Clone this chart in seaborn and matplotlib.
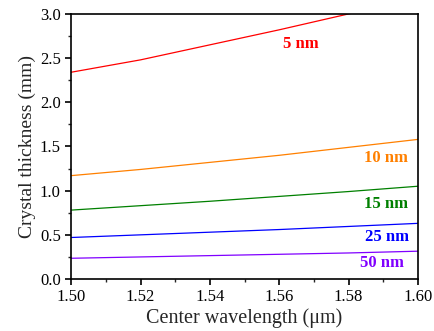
"""Crystal thickness vs center wavelength for several bandwidths."""

import matplotlib
matplotlib.use("Agg")
import matplotlib.pyplot as plt
import numpy as np
import pandas as pd
import seaborn as sns
from matplotlib.ticker import AutoMinorLocator

# Values
wavelength = [1.50, 1.52, 1.54, 1.56, 1.58, 1.60]
thick_5nm = [2.34, 2.48, 2.65, 2.82, 3.00, 3.17]
thick_10nm = [1.17, 1.24, 1.32, 1.40, 1.49, 1.58]
thick_15nm = [0.78, 0.83, 0.88, 0.935, 0.99, 1.05]
thick_25nm = [0.47, 0.50, 0.53, 0.56, 0.595, 0.63]
thick_50nm = [0.235, 0.25, 0.265, 0.28, 0.295, 0.315]

bandwidths = ["5 nm", "10 nm", "15 nm", "25 nm", "50 nm"]
colors = ["#ff0000", "#ff8000", "#008000", "#0000ff", "#8000ff"]
label_x = [1.5663, 1.5908, 1.5908, 1.5912, 1.5895]
label_y = [2.66, 1.37, 0.85, 0.475, 0.18]


def main():
    sns.set_theme(style="ticks")
    plt.rcParams["font.family"] = ["Liberation Serif", "DejaVu Serif"]
    plt.rcParams["mathtext.fontset"] = "stix"

    series = [thick_5nm, thick_10nm, thick_15nm, thick_25nm, thick_50nm]
    df = pd.concat(
        [pd.DataFrame({"wavelength": wavelength, "thickness": s, "bw": bw})
         for s, bw in zip(series, bandwidths)],
        ignore_index=True,
    )

    fig, ax = plt.subplots(figsize=(4.34, 3.31), dpi=100)
    sns.lineplot(data=df, x="wavelength", y="thickness", hue="bw",
                 hue_order=bandwidths, palette=colors, lw=0.9,
                 legend=False, ax=ax)

    for bw, c, x, y in zip(bandwidths, colors, label_x, label_y):
        ax.text(x, y, bw, color=c, fontsize=12, fontweight="bold",
                ha="center", va="center")

    ax.set_xlim(1.50, 1.60)
    ax.set_ylim(0.0, 3.0)
    ax.set_xticks(np.arange(1.50, 1.601, 0.02))
    ax.set_yticks(np.arange(0.0, 3.01, 0.5))
    ax.set_xticklabels([f"{v:.2f}" for v in np.arange(1.50, 1.601, 0.02)])
    ax.set_yticklabels([f"{v:.1f}" for v in np.arange(0.0, 3.01, 0.5)])
    ax.xaxis.set_minor_locator(AutoMinorLocator(2))
    ax.yaxis.set_minor_locator(AutoMinorLocator(2))
    ax.tick_params(which="major", direction="out", length=4, width=1.2,
                   labelsize=12, colors="black")
    ax.tick_params(which="minor", direction="out", length=2.5, width=1.0)
    for sp in ax.spines.values():
        sp.set_linewidth(1.2)
        sp.set_color("black")

    ax.set_xlabel("Center wavelength (μm)", fontsize=14.5, labelpad=2)
    ax.set_ylabel("Crystal thickness (mm)", fontsize=14, labelpad=3)

    fig.subplots_adjust(left=0.164, right=0.963, top=0.958, bottom=0.157)
    fig.savefig("out.png", dpi=100)
    plt.close(fig)


if __name__ == "__main__":
    main()
